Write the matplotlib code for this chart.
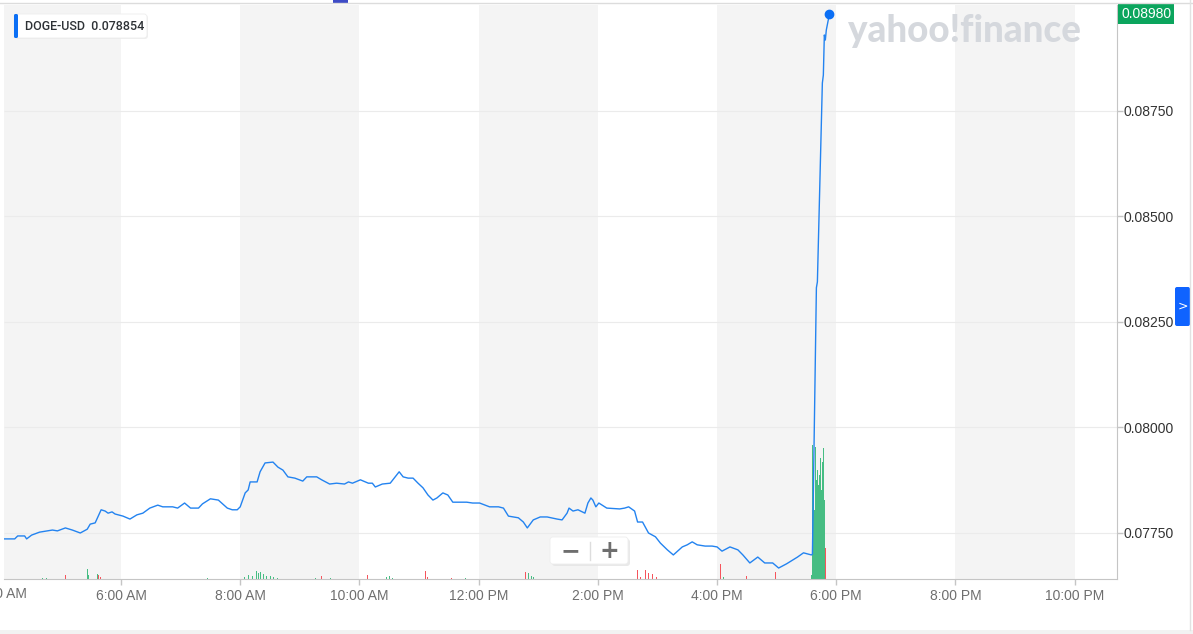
import matplotlib
matplotlib.use("Agg")
import matplotlib.pyplot as plt
import matplotlib.transforms as mtransforms
from matplotlib.patches import FancyBboxPatch, Rectangle
from matplotlib.lines import Line2D

plt.rcParams["font.family"] = ["Liberation Sans", "DejaVu Sans"]

W, H = 1193, 634

# DOGE-USD intraday price (time of day, price in USD)
price_times = [
    "4:02", "4:13", "4:16", "4:23", "4:25", "4:30", "4:38", "4:51", "4:56", "5:04",
    "5:11", "5:19", "5:26", "5:29", "5:34", "5:40", "5:44", "5:47", "5:51", "5:54",
    "6:02", "6:09", "6:16", "6:22", "6:29", "6:37", "6:42", "6:52", "6:57", "7:04",
    "7:10", "7:18", "7:22", "7:30", "7:38", "7:47", "7:52", "7:57", "8:00", "8:05",
    "8:08", "8:10", "8:17", "8:20", "8:25", "8:33", "8:38", "8:43", "8:48", "8:55",
    "9:03", "9:07", "9:17", "9:22", "9:30", "9:37", "9:45", "9:49", "9:53", "10:01",
    "10:09", "10:13", "10:16", "10:23", "10:31", "10:36", "10:40", "10:44", "10:49", "10:54",
    "10:59", "11:04", "11:09", "11:14", "11:18", "11:24", "11:29", "11:34", "11:41", "11:48",
    "11:54", "12:01", "12:11", "12:20", "12:25", "12:30", "12:40", "12:45", "12:49", "12:55",
    "13:02", "13:09", "13:19", "13:24", "13:29", "13:31", "13:35", "13:40", "13:47", "13:50",
    "13:53", "13:55", "13:58", "14:01", "14:09", "14:22", "14:27", "14:31", "14:37", "14:40",
    "14:45", "14:51", "14:58", "15:03", "15:10", "15:16", "15:25", "15:30", "15:35", "15:40",
    "15:48", "15:55", "16:00", "16:05", "16:13", "16:21", "16:26", "16:33", "16:41", "16:48",
    "16:56", "17:02", "17:10", "17:21", "17:27", "17:32", "17:35", "17:36", "17:40", "17:41",
    "17:46", "17:47", "17:48", "17:49", "17:50", "17:52", "17:53",
]
prices = [
    0.07736, 0.07736, 0.07743, 0.07743, 0.07736, 0.07745, 0.07752, 0.07757, 0.07755, 0.07762,
    0.07757, 0.07750, 0.07759, 0.07771, 0.07774, 0.07805, 0.07802, 0.07797, 0.07800, 0.07795,
    0.07790, 0.07783, 0.07793, 0.07797, 0.07809, 0.07816, 0.07812, 0.07812, 0.07809, 0.07821,
    0.07809, 0.07809, 0.07819, 0.07831, 0.07828, 0.07809, 0.07805, 0.07805, 0.07812, 0.07845,
    0.07852, 0.07871, 0.07871, 0.07895, 0.07916, 0.07918, 0.07906, 0.07899, 0.07883, 0.07880,
    0.07873, 0.07883, 0.07883, 0.07876, 0.07866, 0.07868, 0.07866, 0.07871, 0.07868, 0.07876,
    0.07868, 0.07868, 0.07859, 0.07866, 0.07868, 0.07883, 0.07895, 0.07883, 0.07880, 0.07880,
    0.07868, 0.07857, 0.07840, 0.07828, 0.07833, 0.07845, 0.07840, 0.07823, 0.07823, 0.07823,
    0.07821, 0.07821, 0.07812, 0.07812, 0.07809, 0.07790, 0.07786, 0.07776, 0.07762, 0.07781,
    0.07788, 0.07788, 0.07783, 0.07781, 0.07797, 0.07809, 0.07802, 0.07805, 0.07797, 0.07821,
    0.07833, 0.07828, 0.07812, 0.07821, 0.07809, 0.07807, 0.07809, 0.07812, 0.07802, 0.07776,
    0.07776, 0.07750, 0.07741, 0.07726, 0.07710, 0.07698, 0.07717, 0.07722, 0.07729, 0.07722,
    0.07719, 0.07719, 0.07717, 0.07707, 0.07717, 0.07710, 0.07698, 0.07679, 0.07693, 0.07679,
    0.07679, 0.07667, 0.07677, 0.07693, 0.07703, 0.07700, 0.07698, 0.07700, 0.08331, 0.08345,
    0.08816, 0.08835, 0.08930, 0.08918, 0.08942, 0.08966, 0.08980,
]

# volume bars (relative size), True = up bar (green)
vol_times = [
    "4:41", "4:45", "5:04", "5:26", "5:27", "5:36", "5:37", "5:39", "7:27", "8:04",
    "8:08", "8:12", "8:16", "8:18", "8:20", "8:23", "8:26", "8:30", "8:34", "8:38",
    "9:16", "9:22", "9:31", "10:08", "10:27", "10:30", "10:33", "11:07", "11:09", "11:33",
    "11:47", "12:47", "12:50", "12:53", "12:55", "14:40", "14:43", "14:48", "14:51", "14:55",
    "14:59", "16:03", "16:06", "16:30", "16:59",
    "17:35", "17:36", "17:37", "17:38", "17:39", "17:40", "17:41", "17:42", "17:43", "17:44",
    "17:45", "17:46", "17:47", "17:48", "17:49",
]
volumes = [
    1, 1, 4, 10, 4, 5, 4, 2, 1, 2,
    4, 3, 8, 6, 7, 5, 3, 3, 2, 1,
    1, 3, 1, 4, 2, 3, 1, 8, 2, 1,
    1, 7, 6, 3, 2, 9, 2, 9, 6, 5,
    2, 15, 2, 3, 7,
    4, 134, 89, 69, 132, 99, 109, 94, 104, 121,
    89, 117, 131, 79, 31,
]
vol_up = [
    True, True, False, True, True, True, False, False, True, True,
    True, True, True, True, True, True, True, True, True, True,
    True, False, True, False, True, True, True, False, False, False,
    True, False, True, True, True, False, False, False, False, False,
    False, False, True, False, False,
    True, True, True, True, True, True, True, True, True, True,
    True, True, True, True, False,
]

tick_hours = [6, 8, 10, 12, 14, 16, 18, 20, 22]
tick_labels = ["6:00 AM", "8:00 AM", "10:00 AM", "12:00 PM", "2:00 PM",
               "4:00 PM", "6:00 PM", "8:00 PM", "10:00 PM"]
price_ticks = [0.0775, 0.0800, 0.0825, 0.0850, 0.0875]
shade_starts = [4, 8, 12, 16, 20]
legend_name = "DOGE-USD"
legend_value = "0.078854"


def to_hours(t):
    h, m = t.split(":")
    return int(h) + int(m) / 60


px = [to_hours(t) for t in price_times]
vx = [to_hours(t) for t in vol_times]

fig = plt.figure(figsize=(W / 100, H / 100), dpi=100)
fig.patch.set_facecolor("white")
# pixel transform, origin top-left, for page chrome
pxT = mtransforms.Affine2D().scale(1 / W, -1 / H).translate(0, 1) + fig.transFigure

ax_vol = fig.add_axes([4 / W, 55 / H, 1113 / W, 574 / H])
ax = ax_vol.twinx()

x_lo, x_hi = 4.037, 22.71
for s in shade_starts:
    ax_vol.axvspan(s, s + 2, color="#f4f4f4", lw=0, zorder=0)

ax.set_ylim(0.07641, 0.09001)
# price gridlines live under the volume bars
ax_vol.hlines(price_ticks, 0, 1, transform=mtransforms.blended_transform_factory(
    ax_vol.transAxes, ax.transData), color="#ebebeb", lw=0.8, zorder=1)

ax_vol.bar(vx, volumes, width=1 / 60, color=["#46bd83" if u else "#f5545c" for u in vol_up],
           lw=0, zorder=2)
ax_vol.set_ylim(0, max(volumes) * 574 / 134)
ax_vol.set_xlim(x_lo, x_hi)
ax_vol.set_yticks([])
ax_vol.set_xticks(tick_hours)
ax_vol.set_xticklabels(tick_labels)
ax_vol.tick_params(axis="x", length=4, width=1, color="#c5c5c5", pad=3,
                   labelsize=10, labelcolor="#6f6f6f")
for side in ["top", "left", "right"]:
    ax_vol.spines[side].set_visible(False)
ax_vol.spines["bottom"].set_color("#c5c5c5")
# the 4:00 AM label is cut by the left edge of the page
ax_vol.text(4.0, -8 / 574, "4:00 AM", transform=mtransforms.blended_transform_factory(
    ax_vol.transData, ax_vol.transAxes), ha="center", va="top", fontsize=10,
    color="#6f6f6f", clip_on=False)

ax.plot(px, prices, color="#2383f0", lw=1.0, zorder=3)
ax.plot(px[-1], prices[-1], "o", ms=6, color="#0b6ff5", zorder=4)
ax.set_yticks(price_ticks)
ax.set_yticklabels([f"{p:.5f}" for p in price_ticks])
ax.tick_params(axis="y", length=4, width=1, color="#c5c5c5", pad=1,
               labelsize=10, labelcolor="#333333")
for side in ["top", "left", "bottom"]:
    ax.spines[side].set_visible(False)
ax.spines["right"].set_color("#c5c5c5")

# last price flag
flag_T = mtransforms.blended_transform_factory(ax.transAxes, ax.transData) + \
    mtransforms.ScaledTranslation(4 / 100, 0, fig.dpi_scale_trans)
ax.text(1.0, prices[-1], f"{prices[-1]:.5f}", transform=flag_T, ha="left", va="center",
        fontsize=10, color="white", clip_on=False, zorder=5,
        bbox=dict(boxstyle="square,pad=0.22", fc="#0ba55d", ec="none"))

# watermark
fig.text(848, 31, "yahoo!finance", transform=pxT, fontsize=26.5, weight="black",
         family=["Lato", "Liberation Sans"], color="#d5d8dd", ha="left", va="center")

# legend box
fig.add_artist(FancyBboxPatch((15, 15), 133, 24, boxstyle="round,pad=0,rounding_size=3",
                              transform=pxT, fc="#e9e9e9", ec="none", alpha=0.7))
fig.add_artist(FancyBboxPatch((14, 14), 133, 24, boxstyle="round,pad=0,rounding_size=3",
                              transform=pxT, fc="white", ec="#eeeeee", lw=0.6))
fig.add_artist(FancyBboxPatch((14, 14), 4, 24, boxstyle="round,pad=0,rounding_size=1.5",
                              transform=pxT, fc="#0b6ff5", ec="none"))
fig.text(25, 27, f"{legend_name}  {legend_value}", transform=pxT, fontsize=9,
         weight="medium", family=["Roboto", "Liberation Sans"], color="#2e3236",
         ha="left", va="center")

# zoom buttons
fig.add_artist(FancyBboxPatch((552, 539), 78, 27, boxstyle="round,pad=0,rounding_size=3",
                              transform=pxT, fc="#e4e4e4", ec="none", alpha=0.8))
fig.add_artist(FancyBboxPatch((550, 537), 78, 27, boxstyle="round,pad=0,rounding_size=3",
                              transform=pxT, fc="white", ec="#eeeeee", lw=0.6))
fig.add_artist(Line2D([590, 590], [542, 560], transform=pxT, color="#dddddd", lw=1))
fig.text(570, 551, "\u2212", transform=pxT, fontsize=17, weight="bold", color="#6e6e6e",
         ha="center", va="center", family="DejaVu Sans")
fig.text(609, 551, "+", transform=pxT, fontsize=17, weight="bold", color="#6e6e6e",
         ha="center", va="center", family="DejaVu Sans")

# page chrome
fig.add_artist(Line2D([0, W], [3, 3], transform=pxT, color="#dcdcdc", lw=1))
fig.add_artist(Rectangle((333, 0), 15, 3, transform=pxT, fc="#3d4bc6", ec="none"))
fig.add_artist(Line2D([1190, 1190], [0, 630], transform=pxT, color="#e2e2e2", lw=1))
fig.add_artist(Rectangle((0, 630), W, 4, transform=pxT, fc="#f2f2f2", ec="none"))
fig.add_artist(FancyBboxPatch((1175, 287), 15, 39, boxstyle="round,pad=0,rounding_size=2",
                              transform=pxT, fc="#0f63ff", ec="none"))
fig.text(1182.5, 306, ">", transform=pxT, fontsize=9, color="white", ha="center",
         va="center", family="DejaVu Sans")

fig.savefig("out.png", dpi=100, facecolor="white")
